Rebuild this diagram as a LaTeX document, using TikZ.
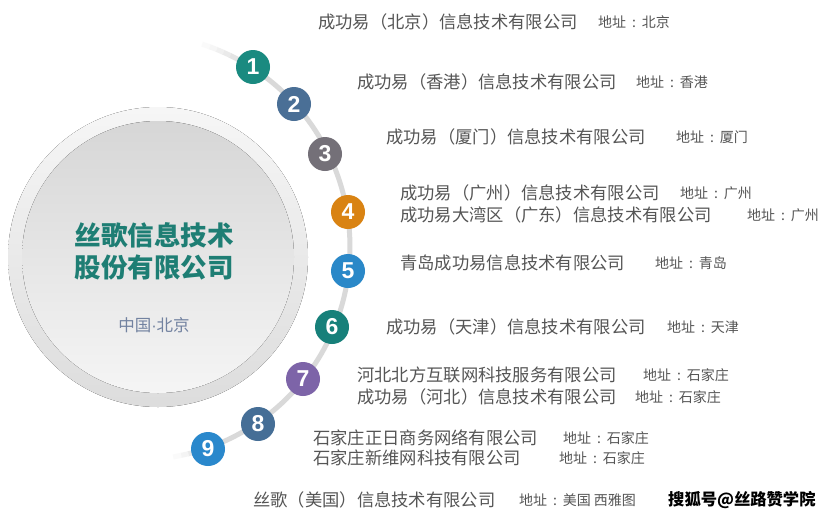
\documentclass[tikz,border=0pt]{standalone}
\usepackage{fontspec}
\setmainfont{Noto Sans CJK SC}
\newfontfamily\numfont{Liberation Sans}
\definecolor{c1}{HTML}{1A8A80}
\definecolor{c2}{HTML}{4A6F96}
\definecolor{c3}{HTML}{747078}
\definecolor{c4}{HTML}{D98313}
\definecolor{c5}{HTML}{2A88C8}
\definecolor{c6}{HTML}{17807A}
\definecolor{c7}{HTML}{7D64A8}
\definecolor{c8}{HTML}{456E96}
\definecolor{c9}{HTML}{2A88CC}
\definecolor{titlec}{HTML}{1E7E74}
\definecolor{subc}{HTML}{7282A0}
\definecolor{txtc}{HTML}{555555}
\definecolor{arcc}{HTML}{D9D9D9}
\newcommand{\addrcolon}{\hspace{0.42em}:\hspace{0.42em}}
\tikzset{
  numc/.style={circle, minimum size=34pt, inner sep=0pt, text=white,
    font=\numfont\bfseries\fontsize{23}{23}\selectfont},
  comp/.style={anchor=west, inner sep=0pt, text=txtc,
    font=\fontsize{17.3}{17.3}\selectfont},
  addr/.style={anchor=west, inner sep=0pt, text=txtc,
    font=\fontsize{14}{14}\selectfont},
}
\begin{document}
\begin{tikzpicture}[x=1pt,y=-1pt]
\useasboundingbox (0,0) rectangle (833,520);
\fill[white] (0,0) rectangle (833,520);
% big circle
\fill[top color=gray!7, bottom color=gray!27] (158,257) circle[radius=150pt];
\fill[top color=gray!32, bottom color=gray!8] (158,257) circle[radius=136pt];
% arc
\draw[arcc, line width=5pt] plot[domain=-72:60, samples=80] ({137+213*cos(\x)},{247-213*sin(\x)});
\foreach \a/\s in {60/15,62/30,64/45,66/60,68/75,70/88}{
  \draw[arcc!\the\numexpr100-\s\relax!white, line width=5pt] plot[domain=\a:\a+2.2, samples=5] ({137+213*cos(\x)},{247-213*sin(\x)});
}
\foreach \a/\s in {-72/20,-74/45,-76/70,-78/88}{
  \draw[arcc!\the\numexpr100-\s\relax!white, line width=5pt] plot[domain=\a-2.2:\a, samples=5] ({137+213*cos(\x)},{247-213*sin(\x)});
}
% centre text
\node[text=titlec, align=center, inner sep=0pt, font=\bfseries\fontsize{26.5}{32}\selectfont] (title) at (154,251) {丝歌信息技术\\股份有限公司};
\node[text=subc, inner sep=0pt, font=\fontsize{16.5}{16.5}\selectfont] (sub) at (154,325) {中国{\numfont ·}北京};
% numbers
\node[numc, fill=c1] (n1) at (253,67) {1};
\node[numc, fill=c2] (n2) at (294,104) {2};
\node[numc, fill=c3] (n3) at (325,154) {3};
\node[numc, fill=c4] (n4) at (348,212) {4};
\node[numc, fill=c5] (n5) at (348,271) {5};
\node[numc, fill=c6] (n6) at (332,327) {6};
\node[numc, fill=c7] (n7) at (303,379) {7};
\node[numc, fill=c8] (n8) at (258,424) {8};
\node[numc, fill=c9] (n9) at (208,449) {9};
% companies
\node[comp] (t1) at (318,22) {成功易（北京）信息技术有限公司};
\node[addr] (a1) at (598,22) {地址\addrcolon 北京};
\node[comp] (t2) at (357,82) {成功易（香港）信息技术有限公司};
\node[addr] (a2) at (636,82) {地址\addrcolon 香港};
\node[comp] (t3) at (386,137) {成功易（厦门）信息技术有限公司};
\node[addr] (a3) at (676,137) {地址\addrcolon 厦门};
\node[comp] (t4a) at (400,193) {成功易（广州）信息技术有限公司};
\node[addr] (a4a) at (680,193) {地址\addrcolon 广州};
\node[comp] (t4b) at (400,215) {成功易大湾区（广东）信息技术有限公司};
\node[addr] (a4b) at (747,215) {地址\addrcolon 广州};
\node[comp] (t5) at (400,263) {青岛成功易信息技术有限公司};
\node[addr] (a5) at (655,263) {地址\addrcolon 青岛};
\node[comp] (t6) at (386,327) {成功易（天津）信息技术有限公司};
\node[addr] (a6) at (667,327) {地址\addrcolon 天津};
\node[comp] (t7a) at (357,375) {河北北方互联网科技服务有限公司};
\node[addr] (a7a) at (643,375) {地址\addrcolon 石家庄};
\node[comp] (t7b) at (357,397) {成功易（河北）信息技术有限公司};
\node[addr] (a7b) at (635,397) {地址\addrcolon 石家庄};
\node[comp] (t8a) at (313,438) {石家庄正日商务网络有限公司};
\node[addr] (a8a) at (563,438) {地址\addrcolon 石家庄};
\node[comp] (t8b) at (313,458) {石家庄新维网科技有限公司};
\node[addr] (a8b) at (559,458) {地址\addrcolon 石家庄};
\node[comp] (t9) at (253,500) {丝歌（美国）信息技术有限公司};
\node[addr] (a9) at (519,500) {地址\addrcolon 美国 西雅图};
\node[anchor=west, inner sep=0pt, text=black, font=\bfseries\fontsize{16.3}{16.3}\selectfont] (wm) at (668,500) {搜狐号@丝路赞学院};
\end{tikzpicture}
\end{document}
